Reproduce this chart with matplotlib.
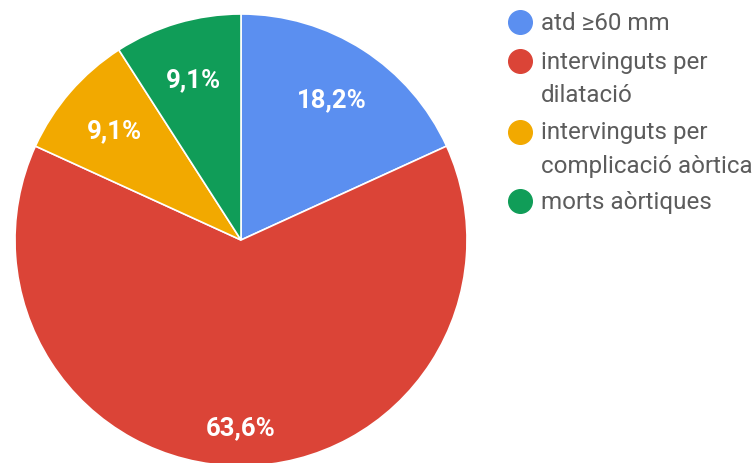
import matplotlib.pyplot as plt
from matplotlib.lines import Line2D

# outcome counts for the aortic cohort
labels = ["atd ≥60 mm", "intervinguts per\ndilatació",
          "intervinguts per\ncomplicació aòrtica", "morts aòrtiques"]
counts = [2, 7, 1, 1]
colors = ["#5b8ff0", "#db4437", "#f2a900", "#109d58"]

W, H = 755, 464
fig = plt.figure(figsize=(W / 100, H / 100), dpi=100)
ax = fig.add_axes([0, 0, 1, 1])

# pie in pixel-like coordinates, y going up
cx, cy, R = 241, H - 241, 226
wedges, texts, autotexts = ax.pie(
    counts, colors=colors, startangle=90, counterclock=False,
    center=(cx, cy), radius=R, frame=True,
    autopct=lambda p: f"{p:.1f}%".replace(".", ","), pctdistance=0.74,
    wedgeprops=dict(edgecolor="white", linewidth=1.2),
    textprops=dict(color="white", fontsize=18.5, fontweight="bold", family="Roboto"))

# the big slice has its label a bit further out
big = counts.index(max(counts))
x, y = autotexts[big].get_position()
autotexts[big].set_position((cx + (x - cx) * 0.83 / 0.74, cy + (y - cy) * 0.83 / 0.74))

# legend drawn by hand: dot + label, one text per line
leg_y = [23, 62, 133, 202]
line_h = 33
for lab, col, ly in zip(labels, colors, leg_y):
    ax.add_line(Line2D([520], [H - ly], marker="o", markersize=17,
                       color=col, linestyle="none"))
    for i, part in enumerate(lab.split("\n")):
        ax.text(541, H - ly - i * line_h, part, va="center", ha="left",
                fontsize=17.4, color="#5c5c5c", family="Roboto")

ax.set_xlim(0, W)
ax.set_ylim(0, H)
ax.set_aspect("equal")
ax.axis("off")

fig.savefig("out.png", dpi=100)
